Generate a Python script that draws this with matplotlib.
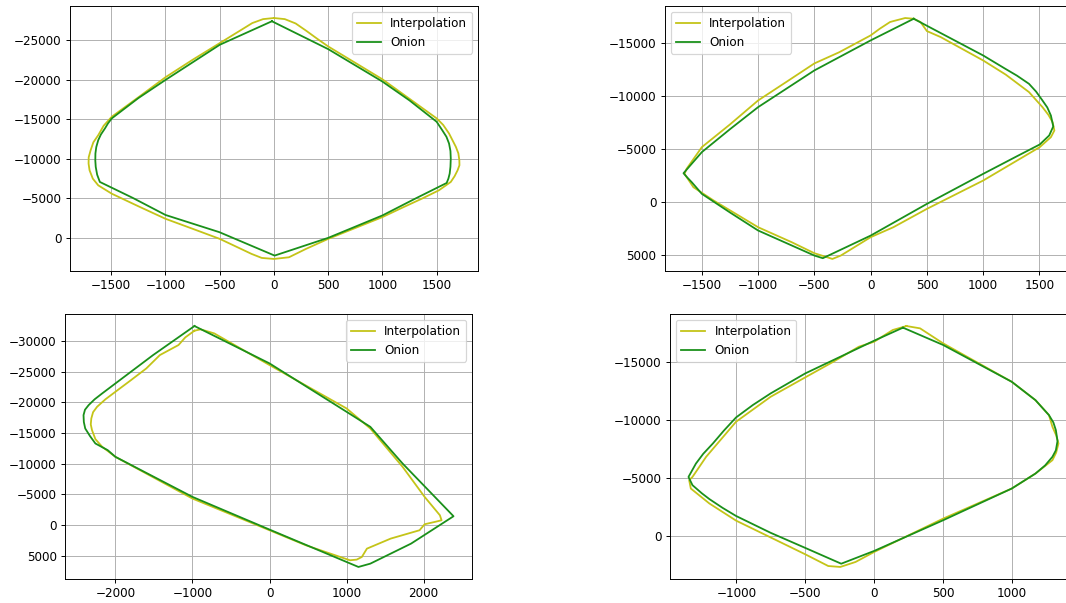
import matplotlib
matplotlib.use("Agg")
import matplotlib.pyplot as plt

# contour 1
interp1_x = [0, 100, 200, 300, 400, 500, 1000, 1500, 1560, 1614, 1677, 1700, 1709, 1710, 1693, 1665, 1630,
             1520, 1363, 1180, 1000, 750, 500, 295, 138, 0, -113, -207, -350, -500, -750, -1000, -1250,
             -1495, -1620, -1670, -1700, -1709, -1708, -1690, -1665, -1620, -1570, -1495, -1250, -1000,
             -750, -500, -300, -200, -100, 0]
interp1_y = [-27840, -27700, -27150, -26200, -25200, -24240, -20080, -15130, -14300, -13220, -11525, -10700,
             -9830, -9200, -8560, -7800, -7080, -6017, -4960, -3800, -2630, -1250, 127, 1400, 2460, 2670,
             2540, 2030, 1100, 127, -1150, -2415, -4000, -5590, -6650, -7500, -8560, -9400, -10200, -11100,
             -12100, -13000, -14200, -15340, -17800, -20340, -22550, -24660, -26350, -27200, -27700, -27840]
onion1_x = [-19, 500, 1000, 1250, 1500, 1551, 1590, 1614, 1627, 1630, 1627, 1620, 1608, 1592, 1300, 1000,
            500, 6, -503, -1000, -1300, -1605, -1630, -1643, -1647, -1646, -1638, -1620, -1595, -1558,
            -1530, -1495, -1250, -1000, -500, -19]
onion1_y = [-27430, -23900, -19790, -17400, -14700, -13640, -12800, -11950, -11000, -10040, -9000, -8140,
            -7500, -6950, -4950, -2840, 0, 2245, -720, -2900, -5050, -7080, -8000, -8980, -9800, -10680,
            -11500, -12370, -13100, -13860, -14500, -15130, -17700, -20000, -24450, -27430]

# contour 2
interp2_x = [383, 307, 202, 172, 81, 0, -280, -500, -750, -1000, -1250, -1500, -1636, -1654, -1575, -1395,
             -1000, -702, -500, -340, -265, 0, 202, 500, 1000, 1503, 1602, 1633, 1617, 1580, 1527, 1407,
             1200, 1000, 623, 500, 443, 383]
interp2_y = [-17260, -17330, -17040, -16950, -16320, -15690, -14100, -13050, -11300, -9560, -7300, -5160,
             -3110, -2640, -1380, -125, 2390, 3800, 4840, 5380, 5060, 3330, 2390, 660, -2010, -5160,
             -6100, -6730, -7515, -8200, -8930, -10350, -12000, -13330, -15530, -16100, -16950, -17260]
onion2_x = [383, 0, -500, -1000, -1250, -1500, -1663, -1630, -1590, -1500, -1250, -1000, -500, -425, 0,
            500, 1000, 1300, 1503, 1587, 1623, 1602, 1570, 1527, 1470, 1407, 1300, 1196, 1000, 500, 383]
onion2_y = [-17260, -15220, -12390, -8930, -6850, -4690, -2700, -2300, -1855, -755, 1000, 2700, 5060,
            5310, 3180, 190, -2640, -4300, -5410, -6260, -7110, -8140, -8900, -9560, -10400, -11130,
            -11900, -12550, -13800, -16600, -17260]

# contour 3
interp3_x = [-974, -894, -718, 0, 1000, 1308, 1727, 2013, 2211, 2233, 2145, 2013, 1947, 1573, 1264, 1198,
             1132, 1044, 471, 0, -1000, -2000, -2172, -2260, -2304, -2320, -2313, -2290, -2238, -2130,
             -2000, -1797, -1599, -1423, -1181, -1093, -974]
interp3_y = [-31700, -31920, -31260, -26090, -19010, -15740, -9480, -4575, -1580, -760, -490, -110, 870,
             2230, 3870, 5230, 5660, 5770, 3320, 870, -4300, -11110, -12750, -14000, -15470, -16400,
             -17370, -18400, -19280, -20500, -21730, -23640, -25540, -27720, -29360, -30610, -31700]
onion3_x = [-974, 0, 1000, 1308, 1727, 2388, 1837, 1308, 1154, 0, -1000, -2000, -2100, -2260, -2330, -2392,
            -2410, -2414, -2395, -2348, -2270, -2172, -2000, -1511, -974]
onion3_y = [-32460, -26360, -18460, -16010, -10020, -1416, 3050, 6320, 6860, 760, -4575, -11110, -12200,
            -13290, -14500, -15740, -16800, -17920, -18800, -19550, -20500, -21460, -23090, -27720,
            -32460]

# contour 4
interp4_x = [234, 333, 500, 998, 1170, 1268, 1293, 1320, 1337, 1320, 1293, 1170, 998, 500, 0, -135, -246,
             -333, -500, -751, -1002, -1195, -1330, -1342, -1318, -1219, -1002, -751, -500, -300, -111,
             0, 135, 234]
interp4_y = [-18100, -17900, -16610, -13300, -11720, -10430, -9430, -8700, -7990, -7200, -6550, -5400,
             -4110, -1520, 1350, 2210, 2640, 2560, 1550, 100, -1350, -2820, -4110, -4830, -5110, -6840,
             -9860, -12010, -13680, -15000, -16320, -16750, -17760, -18100]
onion4_x = [209, 0, -500, -751, -880, -1002, -1090, -1170, -1240, -1293, -1347, -1318, -1250, -1195, -1100,
            -1002, -751, -500, -239, 0, 500, 998, 1170, 1240, 1293, 1318, 1330, 1318, 1300, 1268, 1170,
            998, 500, 209]
onion4_y = [-17960, -16840, -14020, -12300, -11300, -10230, -9100, -7990, -7100, -6260, -5110, -4400, -3700,
            -3200, -2450, -1750, -300, 1000, 2360, 1260, -1380, -4110, -5400, -6100, -6840, -7400, -8200,
            -9140, -9800, -10430, -11720, -13300, -16470, -17960]

curves = [
    (interp1_x, interp1_y, onion1_x, onion1_y, "upper right"),
    (interp2_x, interp2_y, onion2_x, onion2_y, "upper left"),
    (interp3_x, interp3_y, onion3_x, onion3_y, "upper right"),
    (interp4_x, interp4_y, onion4_x, onion4_y, "upper left"),
]

dpi = 86.4
fig = plt.figure(figsize=(1066 / dpi, 603 / dpi), dpi=dpi)
boxes = [
    [0.0657, 0.5506, 0.3827, 0.4395],
    [0.6238, 0.5506, 0.3827, 0.4395],
    [0.0610, 0.0398, 0.3818, 0.4395],
    [0.6285, 0.0398, 0.3818, 0.4395],
]

for box, (ix, iy, ox, oy, loc) in zip(boxes, curves):
    ax = fig.add_axes(box)
    ax.plot(ix, iy, color="#c4c418", lw=1.5, label="Interpolation")
    ax.plot(ox, oy, color="#1a901a", lw=1.5, label="Onion")
    ax.invert_yaxis()
    ax.grid(True)
    ax.legend(loc=loc)

fig.savefig("out.png", dpi=dpi)
